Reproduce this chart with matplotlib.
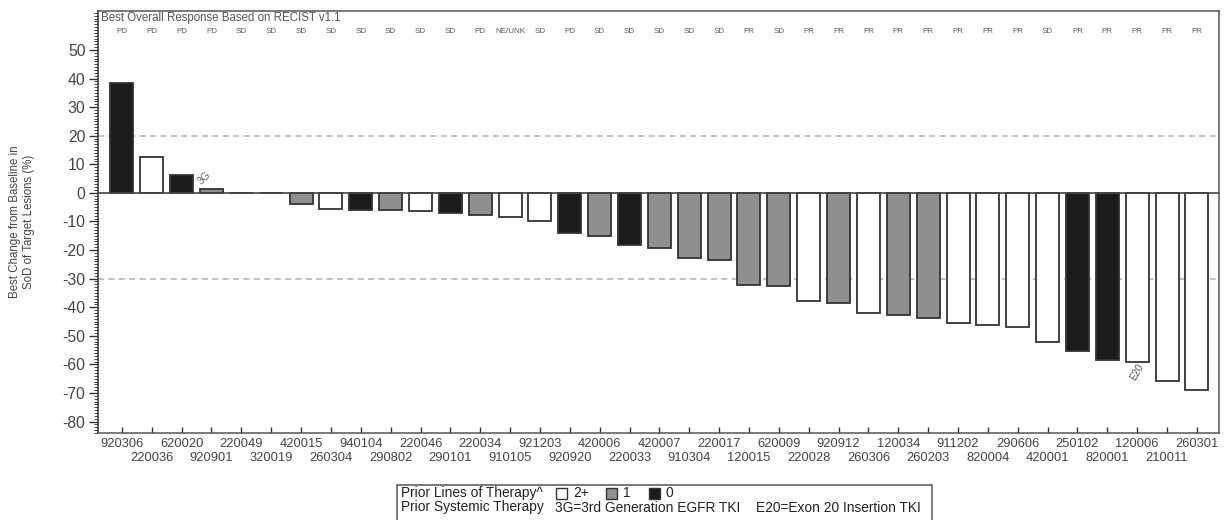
import matplotlib
matplotlib.use("Agg")
import matplotlib.pyplot as plt
from matplotlib.patches import Rectangle
from matplotlib.ticker import MultipleLocator
import matplotlib.transforms as mtransforms
from matplotlib import font_manager

plt.rcParams['font.family'] = ['Liberation Sans', 'DejaVu Sans']
plt.rcParams['axes.unicode_minus'] = False

patients = ["920306", "220036", "620020", "920901", "220049", "320019", "420015", "260304",
            "940104", "290802", "220046", "290101", "220034", "910105", "921203", "920920",
            "420006", "220033", "420007", "910304", "220017", "120015", "620009", "220028",
            "920912", "260306", "120034", "260203", "911202", "820004", "290606", "420001",
            "250102", "820001", "120006", "210011", "260301"]
change = [38.3, 12.6, 6.3, 1.3, 0.0, 0.0, -3.8, -5.6, -6.0, -6.1, -6.3, -7.0, -7.7, -8.4,
          -10.0, -14.0, -15.0, -18.3, -19.3, -22.8, -23.5, -32.2, -32.6, -37.8, -38.6, -42.0,
          -42.8, -43.8, -45.6, -46.3, -47.0, -52.0, -55.3, -58.6, -59.2, -65.8, -69.0]
prior_lines = ["0", "2+", "0", "1", "1", "1", "1", "2+", "0", "1", "2+", "0", "1", "2+",
               "2+", "0", "1", "0", "1", "1", "1", "1", "1", "2+", "1", "2+", "1", "1",
               "2+", "2+", "2+", "2+", "0", "0", "2+", "2+", "2+"]
response = ["PD", "PD", "PD", "PD", "SD", "SD", "SD", "SD", "SD", "SD", "SD", "SD", "PD",
            "NE/UNK", "SD", "PD", "SD", "SD", "SD", "SD", "SD", "PR", "SD", "PR", "PR", "PR",
            "PR", "PR", "PR", "PR", "PR", "SD", "PR", "PR", "PR", "PR", "PR"]
annotations = {3: "3G", 34: "E20"}
ref_lines = [20, -30]
legend_keys = ["2+", "1", "0"]

colors = {"2+": "#ffffff", "1": "#8f8f91", "0": "#1c1c1c"}

# narrow font for the vertical y label if available
try:
    font_manager.findfont("Liberation Sans Narrow", fallback_to_default=False)
    ylab_family = ["Liberation Sans Narrow"]
    ylab_size = 10.3
except Exception:
    ylab_family = ["Liberation Sans", "DejaVu Sans"]
    ylab_size = 8.3

fig = plt.figure(figsize=(12.25, 5.2), dpi=100)
ax_bottom = 1 - 433 / 520
ax_h = 422.5 / 520
ax = fig.add_axes([98 / 1225, ax_bottom, 1121 / 1225, ax_h])

x = list(range(len(patients)))
ax.bar(x, change, width=0.77, color=[colors[p] for p in prior_lines],
       edgecolor="#333333", linewidth=1.3, zorder=3)

ax.axhline(0, color="#444444", linewidth=1.2, zorder=4)
for r in ref_lines:
    ax.axhline(r, color="#b0b0b0", linewidth=1.1, linestyle=(0, (4, 2.8)), zorder=2)

ax.set_xlim(-0.8, len(patients) - 1 + 0.74)
ax.set_ylim(-84.0, 63.8)

ax.set_yticks(range(-80, 51, 10))
ax.yaxis.set_minor_locator(MultipleLocator(1))
ax.tick_params(axis='y', which='major', direction='out', length=6.5, width=1,
               color="#333333", labelsize=11.3, labelcolor="#444444", pad=2.5)
ax.tick_params(axis='y', which='minor', direction='out', length=2.8, width=0.7, color="#444444")

# staggered patient labels: even positions on major ticks, odd on minor ticks
even = x[0::2]
odd = x[1::2]
ax.set_xticks(even)
ax.set_xticklabels(patients[0::2], fontsize=9.3, color="#444444")
ax.set_xticks(odd, minor=True)
ax.set_xticklabels(patients[1::2], minor=True, fontsize=9.3, color="#444444")
ax.tick_params(axis='x', which='major', direction='in', length=4, width=1, color="#333333", pad=3.8)
ax.tick_params(axis='x', which='minor', direction='in', length=4, width=1, color="#333333", pad=13.4)

for s in ax.spines.values():
    s.set_color("#555555")
    s.set_linewidth(1.1)
ax.spines['left'].set_color("#333333")

fig.text(22 / 1225, ax_bottom + ax_h / 2,
         "Best Change from Baseline in\nSoD of Target Lesions (%)", fontsize=ylab_size,
         color="#444444", linespacing=1.15, family=ylab_family, rotation=90,
         ha='center', va='center', multialignment='center')

trans = mtransforms.blended_transform_factory(ax.transData, ax.transAxes)
ax.text(0.003, 0.996, "Best Overall Response Based on RECIST v1.1", transform=ax.transAxes,
        ha='left', va='top', fontsize=8.3, color="#555555")
for i, r in enumerate(response):
    ax.text(i, 0.951, r, transform=trans, ha='center', va='center', fontsize=5.8,
            color="#5a5a5a")

for i, t in annotations.items():
    v = change[i]
    if v >= 0:
        ax.text(i - 0.25, v + 3.8, t, ha='center', va='center', rotation=45,
                fontsize=7.5, color="#666666")
    else:
        ax.text(i, v - 3.4, t, ha='center', va='center', rotation=60,
                fontsize=7, color="#555555")

# Legend box
fig.patches.append(Rectangle((397 / 1225, -0.01), 535 / 1225, 35 / 520 + 0.01,
                             transform=fig.transFigure, fill=False, edgecolor="#555555",
                             linewidth=1.1))
ly1 = 1 - 493 / 520
ly2 = 1 - 507.5 / 520
tc = "#222222"
lfs = 9.9
fig.text(401 / 1225, ly1, "Prior Lines of Therapy^", ha='left', va='center', fontsize=lfs, color=tc)
sq_x = [556, 606, 649]
for key, px in zip(legend_keys, sq_x):
    fig.patches.append(Rectangle((px / 1225, ly1 - 5.5 / 520), 11 / 1225, 11 / 520,
                                 transform=fig.transFigure, facecolor=colors[key],
                                 edgecolor="#333333", linewidth=1))
    fig.text((px + 17) / 1225, ly1, key, ha='left', va='center', fontsize=lfs, color=tc)
fig.text(401 / 1225, ly2, "Prior Systemic Therapy", ha='left', va='center', fontsize=lfs, color=tc)
fig.text(555 / 1225, ly2, "3G=3rd Generation EGFR TKI", ha='left', va='center', fontsize=lfs, color=tc)
fig.text(921 / 1225, ly2, "E20=Exon 20 Insertion TKI", ha='right', va='center', fontsize=lfs, color=tc)

fig.savefig("out.png", dpi=100)
